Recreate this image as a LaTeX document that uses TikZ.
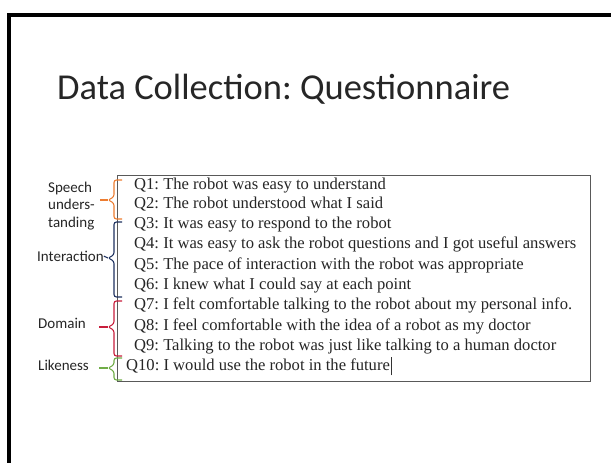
\documentclass[tikz,border=0pt]{standalone}
\usepackage{fontspec}
\setmainfont{Liberation Serif}
\newfontfamily\calib{Carlito}
\definecolor{bOrange}{RGB}{237,125,49}
\definecolor{bNavy}{RGB}{31,50,96}
\definecolor{bRed}{RGB}{200,30,60}
\definecolor{bGreen}{RGB}{112,173,71}
\frenchspacing
\begin{document}
\begin{tikzpicture}[x=1pt,y=-1pt,
  qtext/.style={anchor=mid west,inner sep=0pt,font=\fontsize{16.6}{18}\selectfont,text=black!85},
  lab/.style={anchor=mid west,inner sep=0pt,font=\calib\fontsize{15}{17.5}\selectfont,text=black!85},
  bracepath/.style={line width=1.1pt,rounded corners=2.5pt},
  tick/.style={line width=1.1pt}]
\useasboundingbox (0,0) rectangle (611,463);
\fill[white] (0,0) rectangle (611,463);
% slide frame
\draw[line width=4pt,line join=miter] (611,14.5) -- (9,14.5) -- (9,463);
% title
\node[anchor=base west,inner sep=0pt,font=\calib\fontsize{36.5}{40}\selectfont,text=black!85] (title) at (57,99) {Data Collection: Questionnaire};
% box
\node[draw=black!65,line width=1.2pt,minimum width=473pt,minimum height=206pt,inner sep=0pt,anchor=north west] (qbox) at (117,175) {};
% questions
\node[qtext] (q1) at (134,187) {Q1: The robot was easy to understand};
\node[qtext] (q2) at (134,206.5) {Q2: The robot understood what I said};
\node[qtext] (q3) at (134,226.5) {Q3: It was easy to respond to the robot};
\node[qtext] (q4) at (134,246.5) {Q4: It was easy to ask the robot questions and I got useful answers};
\node[qtext] (q5) at (134,267) {Q5: The pace of interaction with the robot was appropriate};
\node[qtext] (q6) at (134,287) {Q6: I knew what I could say at each point};
\node[qtext] (q7) at (134,307.5) {Q7: I felt comfortable talking to the robot about my personal info.};
\node[qtext] (q8) at (134,328) {Q8: I feel comfortable with the idea of a robot as my doctor};
\node[qtext] (q9) at (134,348) {Q9: Talking to the robot was just like talking to a human doctor};
\node[qtext] (q10) at (126,368.5) {Q10: I would use the robot in the future};
% text cursor
\coordinate (curtop) at ([xshift=1pt,yshift=-9pt]q10.east);
\coordinate (curbot) at ([xshift=1pt,yshift=9pt]q10.east);
\draw[line width=0.8pt,black!80] (curtop) -- (curbot);
% labels
\node[lab,align=left,anchor=west] (speech) at (48,206) {Speech\\unders-\\tanding};
\node[lab] (inter) at (37,259) {Interaction};
\node[lab] (domain) at (38,326) {Domain};
\node[lab] (like) at (38,368) {Likeness};
% braces
\draw[bracepath,bOrange] (122,180) -- (114,180) -- (114,197) -- (108,200) -- (114,203) -- (114,219) -- (122,219);
\coordinate (tipO) at (108,200);
\coordinate (tailO) at (100,200);
\draw[tick,bOrange] (tailO) -- (tipO);
\draw[bracepath,bNavy] (122,222) -- (114,222) -- (114,255) -- (108,258) -- (114,261) -- (114,297) -- (122,297);
\coordinate (tipB) at (108,258);
\draw[tick,bNavy] (inter.east) -- (tipB);
\draw[bracepath,bRed] (122,301) -- (114,301) -- (114,324) -- (108,327) -- (114,330) -- (114,356) -- (122,356);
\coordinate (tipR) at (108,327);
\coordinate (tailR) at (99,327);
\draw[tick,bRed] (tailR) -- (tipR);
\draw[bracepath,bGreen] (122,358) -- (114,358) -- (114,365) -- (108,368) -- (114,371) -- (114,380) -- (122,380);
\coordinate (tipG) at (108,368);
\coordinate (tailG) at (99,368);
\draw[tick,bGreen] (tailG) -- (tipG);
\end{tikzpicture}
\end{document}
